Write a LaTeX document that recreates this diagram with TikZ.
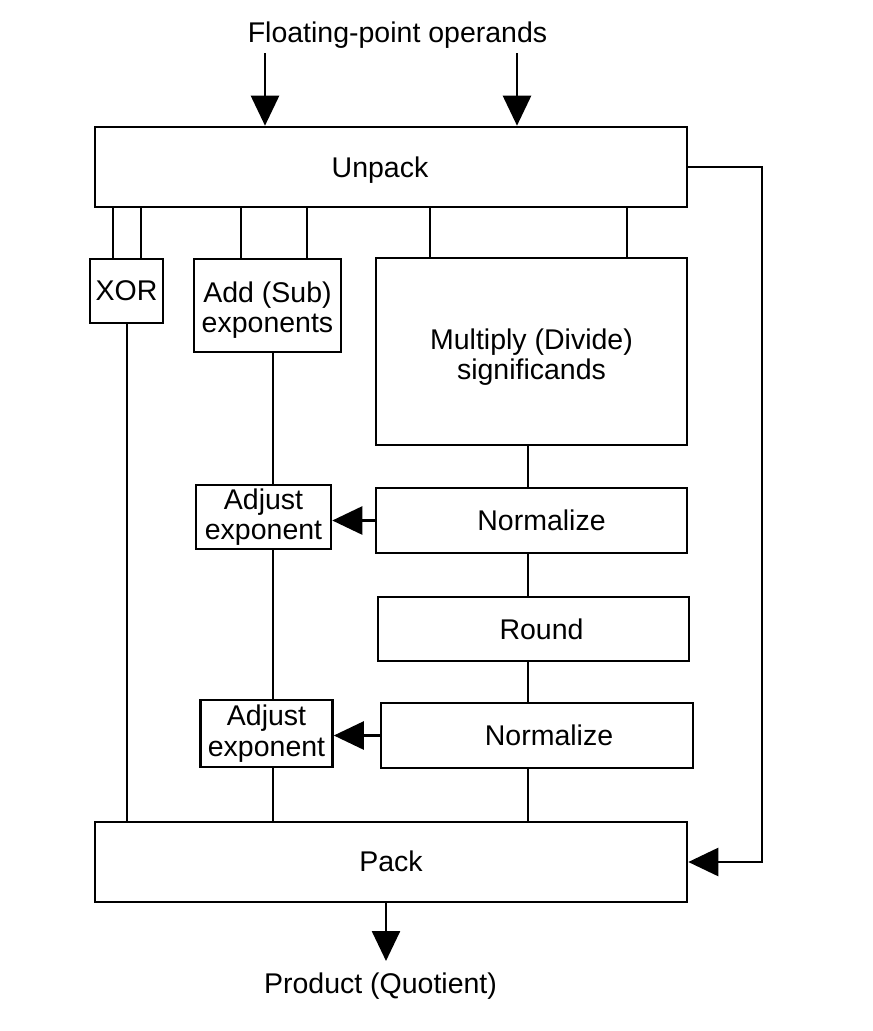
\documentclass[tikz,border=0pt]{standalone}
\usepackage{fontspec}
\setmainfont{Liberation Sans}
\usetikzlibrary{arrows.meta}
\newcommand{\lowerby}[2]{\raisebox{-#1}[\height][\depth]{\begin{tabular}{@{}c@{}}#2\end{tabular}}}
\begin{document}
\begin{tikzpicture}[x=1pt,y=-1pt, line width=2.6pt,
  box/.style={draw, rectangle, inner sep=0pt, align=center, font=\fontsize{28.5}{30.5}\selectfont},
  lbl/.style={inner sep=0pt, font=\fontsize{28.5}{30.5}\selectfont},
  tip/.style={-{Triangle[length=30pt,width=28pt]}}]
\useasboundingbox (0,0) rectangle (873,1031);
\node[box, minimum width=592pt, minimum height=80pt] (unpack) at (391,167) {\lowerby{4pt}{Unpack\hspace*{22pt}}};
\node[box, minimum width=73pt, minimum height=64pt] (xor) at (126.5,291) {XOR};
\node[box, minimum width=147pt, minimum height=93pt] (add) at (267.5,305.5) {\lowerby{6pt}{Add (Sub)\\exponents}};
\node[box, minimum width=311pt, minimum height=187pt] (mul) at (531.5,351.5) {\lowerby{7pt}{Multiply (Divide)\\significands}};
\node[box, minimum width=311pt, minimum height=65pt] (norm1) at (531.5,520.5) {\hspace*{20pt}Normalize};
\node[box, minimum width=135pt, minimum height=64pt] (adj1) at (263.5,517) {Adjust\\exponent};
\node[box, minimum width=311pt, minimum height=64pt] (round) at (533.5,629) {\hspace*{16pt}Round};
\node[box, minimum width=312pt, minimum height=65pt] (norm2) at (537,735.5) {\hspace*{24pt}Normalize};
\node[box, minimum width=132pt, minimum height=67pt] (adj2) at (266.5,733.5) {Adjust\\exponent};
\node[box, minimum width=592pt, minimum height=80pt] (pack) at (391,862) {\lowerby{3pt}{Pack}};
\node[lbl, anchor=base] (in) at (397.5,42) {Floating-point operands};
\node[lbl, anchor=base] (out) at (380.5,993) {Product (Quotient)};
\coordinate (a1) at (265,53);
\coordinate (a2) at (517,53);
\coordinate (o) at (386,961);
\coordinate (c113) at (113,0);
\coordinate (c141) at (141,0);
\coordinate (c241) at (241,0);
\coordinate (c307) at (307,0);
\coordinate (c430) at (430,0);
\coordinate (c627) at (627,0);
\coordinate (c127) at (127,0);
\coordinate (c273) at (273,0);
\coordinate (c528) at (528,0);
\coordinate (cr) at (762,0);
\draw[tip] (a1) -- (a1 |- unpack.north);
\draw[tip] (a2) -- (a2 |- unpack.north);
\draw[tip] (pack.south -| o) -- (o);
\draw (unpack.south -| c113) -- (xor.north -| c113);
\draw (unpack.south -| c141) -- (xor.north -| c141);
\draw (unpack.south -| c241) -- (add.north -| c241);
\draw (unpack.south -| c307) -- (add.north -| c307);
\draw (unpack.south -| c430) -- (mul.north -| c430);
\draw (unpack.south -| c627) -- (mul.north -| c627);
\draw (xor.south -| c127) -- (pack.north -| c127);
\draw (add.south -| c273) -- (adj1.north -| c273);
\draw (adj1.south -| c273) -- (adj2.north -| c273);
\draw (adj2.south -| c273) -- (pack.north -| c273);
\draw (mul.south -| c528) -- (norm1.north -| c528);
\draw (norm1.south -| c528) -- (round.north -| c528);
\draw (round.south -| c528) -- (norm2.north -| c528);
\draw (norm2.south -| c528) -- (pack.north -| c528);
\draw[tip] (norm1.west) -- (norm1.west -| adj1.east);
\draw[tip] (norm2.west) -- (norm2.west -| adj2.east);
\draw[tip] (unpack.east) -- (unpack.east -| cr) -- (pack.east -| cr) -- (pack.east);
\end{tikzpicture}
\end{document}
